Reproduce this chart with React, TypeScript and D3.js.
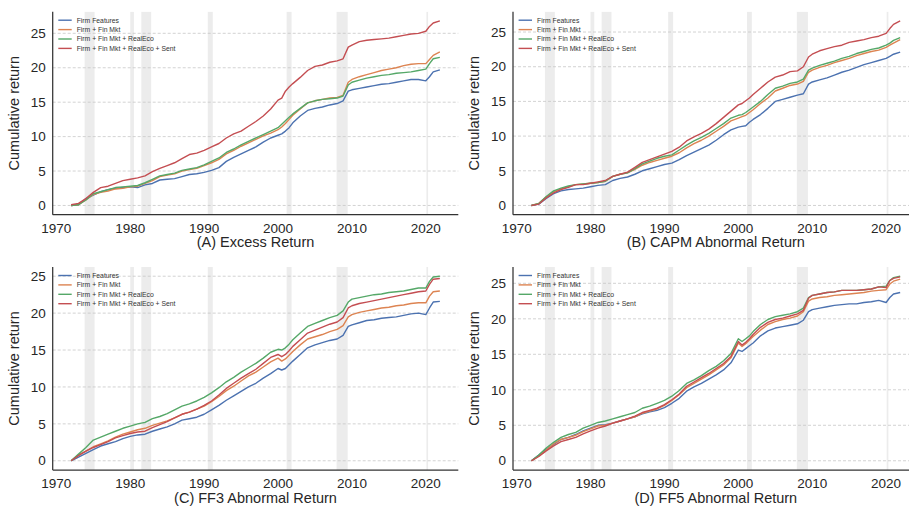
import React from "react";
import * as d3 from "d3";

// Time grid (years, fractional where jumps occur)
const years: number[] = [
  1972, 1973, 1974, 1975, 1976, 1977, 1978, 1979, 1980, 1981, 1982, 1983, 1984, 1985,
  1986, 1987, 1988, 1989, 1990, 1991, 1992, 1993, 1994, 1995, 1996, 1997, 1998, 1999,
  2000, 2000.5, 2001, 2001.5,
  2002, 2003, 2004, 2005, 2006, 2007, 2008,
  2008.8, 2009.5,
  2010, 2011, 2012, 2013, 2014, 2015, 2016, 2017, 2018, 2019, 2020,
  2020.5, 2021, 2021.9,
];

const seriesNames = [
  "Firm Features",
  "Firm + Fin Mkt",
  "Firm + Fin Mkt + RealEco",
  "Firm + Fin Mkt + RealEco + Sent",
];
const seriesColors = ["#4C72B0", "#DD8452", "#55A868", "#C44E52"];

const recessions: [number, number][] = [
  [1973.83, 1975.17],
  [1980.0, 1980.5],
  [1981.5, 1982.83],
  [1990.5, 1991.17],
  [2001.17, 2001.83],
  [2007.92, 2009.42],
  [2020.08, 2020.3],
];

const yTicks = [0, 5, 10, 15, 20, 25];
const xTicks = [1970, 1980, 1990, 2000, 2010, 2020];

// Panel A: Excess Return
const aFirm = [
  0, 0.1, 1.0, 1.5, 2.0, 2.3, 2.5, 2.6, 2.7, 2.6, 3.0, 3.2, 3.7, 3.8, 3.9, 4.2, 4.5, 4.6, 4.8, 5.1, 5.5, 6.4, 7.0, 7.5, 8.0, 8.5, 9.2, 9.8,
  10.2, 10.4, 10.8, 11.3,
  12.0, 13.0, 13.8, 14.1, 14.3, 14.6, 14.8,
  15.2, 16.6,
  16.8, 17.0, 17.2, 17.4, 17.6, 17.7, 17.9, 18.1, 18.3, 18.3, 18.1,
  18.7, 19.4, 19.7,
];
const aFin = [
  0, 0.1, 0.8, 1.6, 1.9, 2.1, 2.4, 2.5, 2.7, 2.8, 3.2, 3.6, 4.2, 4.4, 4.6, 5.0, 5.2, 5.4, 5.8, 6.2, 6.7, 7.5, 8.0, 8.6, 9.1, 9.6, 10.1, 10.5,
  11.0, 11.4, 11.9, 12.5,
  13.1, 14.0, 14.9, 15.2, 15.4, 15.6, 15.7,
  16.0, 17.9,
  18.3, 18.7, 19.0, 19.3, 19.6, 19.8, 20.0, 20.3, 20.5, 20.6, 20.6,
  21.2, 21.8, 22.3,
];
const aEco = [
  0, 0.1, 0.8, 1.7, 2.0, 2.3, 2.6, 2.7, 2.8, 2.9, 3.3, 3.8, 4.3, 4.5, 4.7, 5.1, 5.3, 5.5, 5.9, 6.4, 6.9, 7.7, 8.2, 8.8, 9.3, 9.8, 10.3, 10.8,
  11.3, 11.8, 12.3, 12.8,
  13.3, 14.1, 14.9, 15.2, 15.4, 15.5, 15.6,
  15.9, 17.5,
  17.9, 18.2, 18.5, 18.7, 18.9, 19.0, 19.2, 19.3, 19.4, 19.6, 19.8,
  20.6, 21.3, 21.5,
];
const aSent = [
  0.1, 0.3, 1.0, 1.9, 2.6, 2.8, 3.2, 3.6, 3.8, 4.0, 4.3, 4.9, 5.4, 5.8, 6.2, 6.8, 7.4, 7.6, 8.0, 8.5, 9.0, 9.8, 10.4, 10.8, 11.5, 12.2, 13.0, 14.0,
  15.3, 15.6, 16.6, 17.2,
  17.7, 18.6, 19.6, 20.2, 20.4, 20.8, 21.0,
  21.3, 23.0,
  23.3, 23.8, 24.0, 24.1, 24.2, 24.3, 24.5, 24.7, 24.9, 25.0, 25.3,
  26.0, 26.5, 26.8,
];

// Panel B: CAPM Abnormal Return
const bFirm = [
  0, 0.2, 1.0, 1.7, 2.1, 2.3, 2.4, 2.5, 2.7, 2.9, 3.0, 3.6, 3.9, 4.1, 4.5, 5.0, 5.3, 5.6, 5.9, 6.1, 6.6, 7.2, 7.7, 8.2, 8.7, 9.4, 10.2, 10.9,
  11.3, 11.4, 11.5, 12.0,
  12.4, 13.1, 14.0, 15.0, 15.3, 15.6, 15.9,
  16.1, 17.5,
  17.8, 18.1, 18.4, 18.8, 19.2, 19.5, 19.9, 20.3, 20.6, 20.9, 21.2,
  21.5, 21.8, 22.1,
];
const bFin = [
  0, 0.3, 1.2, 2.0, 2.4, 2.7, 3.0, 3.1, 3.2, 3.3, 3.5, 4.2, 4.5, 4.7, 5.2, 5.8, 6.2, 6.5, 6.8, 7.1, 7.6, 8.3, 8.9, 9.4, 10.0, 10.7, 11.4, 12.2,
  12.6, 12.8, 13.0, 13.4,
  13.8, 14.7, 15.5, 16.5, 16.9, 17.3, 17.5,
  17.9, 19.2,
  19.5, 19.9, 20.2, 20.6, 20.9, 21.2, 21.6, 21.9, 22.2, 22.4, 22.8,
  23.1, 23.4, 23.9,
];
const bEco = [
  0, 0.3, 1.3, 2.1, 2.5, 2.8, 3.0, 3.1, 3.2, 3.3, 3.5, 4.2, 4.5, 4.7, 5.3, 6.0, 6.4, 6.8, 7.1, 7.3, 8.0, 8.7, 9.3, 9.8, 10.4, 11.1, 11.8, 12.6,
  13.0, 13.1, 13.4, 13.8,
  14.2, 15.0, 16.0, 16.9, 17.2, 17.6, 17.8,
  18.2, 19.5,
  19.8, 20.2, 20.5, 20.8, 21.2, 21.5, 21.9, 22.2, 22.5, 22.7, 23.1,
  23.4, 23.8, 24.2,
];
const bSent = [
  0, 0.2, 1.1, 1.8, 2.3, 2.6, 3.0, 3.0, 3.2, 3.4, 3.6, 4.2, 4.5, 4.8, 5.5, 6.2, 6.6, 7.0, 7.4, 7.8, 8.4, 9.3, 9.9, 10.4, 11.0, 11.8, 12.7, 13.6,
  14.5, 14.7, 15.1, 15.5,
  16.0, 16.9, 17.8, 18.5, 18.8, 19.3, 19.4,
  20.0, 21.4,
  21.8, 22.3, 22.6, 22.9, 23.1, 23.5, 23.7, 23.9, 24.2, 24.4, 24.8,
  25.5, 26.1, 26.6,
];

// Panel C: FF3 Abnormal Return
const cFirm = [
  0, 0.5, 1.0, 1.5, 2.0, 2.3, 2.6, 3.0, 3.3, 3.5, 3.6, 4.0, 4.3, 4.6, 5.0, 5.5, 5.7, 5.9, 6.3, 6.9, 7.5, 8.2, 8.8, 9.4, 10.0, 10.5, 11.2, 11.8,
  12.5, 12.3, 12.5, 13.0,
  13.5, 14.4, 15.3, 15.7, 16.0, 16.3, 16.5,
  17.0, 18.2,
  18.4, 18.7, 19.0, 19.1, 19.3, 19.4, 19.5, 19.7, 19.9, 20.0, 19.8,
  20.7, 21.5, 21.6,
];
const cFin = [
  0, 0.8, 1.3, 1.9, 2.3, 2.7, 3.2, 3.6, 3.9, 4.2, 4.4, 4.8, 5.1, 5.4, 5.8, 6.3, 6.6, 7.0, 7.4, 8.0, 8.7, 9.5, 10.1, 10.8, 11.5, 12.0, 12.7, 13.4,
  13.9, 13.5, 13.8, 14.3,
  14.8, 15.7, 16.5, 16.8, 17.1, 17.5, 17.8,
  18.3, 19.5,
  19.8, 20.1, 20.3, 20.5, 20.7, 20.8, 21.0, 21.1, 21.3, 21.4, 21.4,
  22.3, 22.9, 23.0,
];
const cEco = [
  0, 0.9, 1.8, 2.8, 3.2, 3.6, 4.0, 4.4, 4.7, 5.0, 5.2, 5.7, 6.0, 6.4, 6.9, 7.4, 7.7, 8.1, 8.6, 9.2, 9.9, 10.7, 11.3, 12.0, 12.6, 13.2, 13.9, 14.7,
  15.1, 15.0, 15.3, 15.8,
  16.4, 17.3, 18.2, 18.6, 19.0, 19.4, 19.7,
  20.3, 21.5,
  21.9, 22.1, 22.3, 22.5, 22.6, 22.8, 22.9, 23.0, 23.2, 23.4, 23.4,
  24.3, 24.9, 25.0,
];
const cSent = [
  0, 0.7, 1.3, 1.8, 2.2, 2.6, 3.1, 3.4, 3.7, 3.9, 4.0, 4.5, 4.9, 5.3, 5.8, 6.3, 6.6, 7.0, 7.5, 8.1, 8.9, 9.8, 10.5, 11.2, 11.8, 12.4, 13.2, 14.0,
  14.4, 14.1, 14.4, 14.9,
  15.5, 16.4, 17.3, 17.7, 18.1, 18.5, 18.8,
  19.4, 20.7,
  21.0, 21.3, 21.5, 21.7, 21.9, 22.1, 22.3, 22.5, 22.7, 22.9, 23.0,
  23.9, 24.6, 24.7,
];

// Panel D: FF5 Abnormal Return
const dFirm = [
  0, 0.8, 1.6, 2.3, 3.0, 3.3, 3.7, 4.2, 4.6, 5.0, 5.1, 5.3, 5.6, 5.9, 6.2, 6.6, 6.9, 7.1, 7.5, 8.1, 8.8, 9.8, 10.4, 10.9, 11.5, 12.1, 12.8, 13.8,
  15.6, 15.4, 15.8, 16.2,
  16.6, 17.6, 18.3, 18.7, 18.9, 19.1, 19.3,
  19.8, 21.0,
  21.3, 21.5, 21.7, 21.9, 22.0, 22.1, 22.1, 22.3, 22.4, 22.6, 22.3,
  23.0, 23.5, 23.7,
];
const dFin = [
  0, 0.7, 1.5, 2.4, 3.0, 3.3, 3.6, 4.1, 4.5, 4.9, 5.0, 5.3, 5.6, 5.9, 6.2, 6.7, 7.0, 7.3, 7.8, 8.5, 9.3, 10.3, 10.9, 11.5, 12.1, 12.8, 13.5, 14.5,
  16.6, 16.1, 16.5, 17.0,
  17.5, 18.4, 19.2, 19.6, 19.9, 20.1, 20.4,
  21.0, 22.5,
  22.8, 23.0, 23.1, 23.3, 23.4, 23.5, 23.6, 23.7, 23.9, 24.0, 24.1,
  24.9, 25.3, 25.6,
];
const dEco = [
  0, 0.8, 1.8, 2.6, 3.3, 3.7, 4.0, 4.6, 5.0, 5.4, 5.6, 5.9, 6.2, 6.5, 6.8, 7.4, 7.7, 8.1, 8.5, 9.1, 9.9, 10.9, 11.4, 12.0, 12.7, 13.3, 14.1, 15.1,
  17.2, 16.8, 17.2, 17.6,
  18.2, 19.2, 19.9, 20.3, 20.5, 20.7, 21.0,
  21.5, 23.0,
  23.3, 23.5, 23.7, 23.8, 24.0, 24.0, 24.0, 24.1, 24.2, 24.5, 24.6,
  25.4, 25.8, 26.0,
];
const dSent = [
  0, 0.6, 1.4, 2.1, 2.7, 3.0, 3.3, 3.8, 4.2, 4.6, 4.9, 5.3, 5.6, 5.9, 6.3, 6.8, 7.1, 7.4, 7.9, 8.6, 9.4, 10.5, 11.1, 11.7, 12.3, 13.0, 13.7, 14.7,
  16.8, 16.3, 16.7, 17.2,
  17.8, 18.8, 19.5, 19.9, 20.1, 20.4, 20.7,
  21.2, 22.9,
  23.3, 23.5, 23.7, 23.8, 24.0, 24.0, 24.0, 24.1, 24.2, 24.5, 24.4,
  25.4, 25.7, 25.9,
];

const panelTitles = [
  "(A) Excess Return",
  "(B) CAPM Abnormal Return",
  "(C) FF3 Abnormal Return",
  "(D) FF5 Abnormal Return",
];
const panelSeries = [
  [aFirm, aFin, aEco, aSent],
  [bFirm, bFin, bEco, bSent],
  [cFirm, cFin, cEco, cSent],
  [dFirm, dFin, dEco, dSent],
];

const W = 909;
const H = 510;
const AX_W = 405.6;
const AX_H = 203;
const panelPos = [
  { left: 52.7, top: 11.7 },
  { left: 513, top: 11.7 },
  { left: 52.7, top: 267 },
  { left: 513, top: 267 },
];

const FONT = "'Liberation Sans', Arial, Helvetica, sans-serif";
const TEXT = "#262626";

function Panel({ idx }: { idx: number }) {
  const { left, top } = panelPos[idx];
  const series = panelSeries[idx];
  const xMin = d3.min(years)!;
  const xMax = d3.max(years)!;
  const xPad = (xMax - xMin) * 0.05;
  const x = d3.scaleLinear().domain([xMin - xPad, xMax + xPad]).range([left, left + AX_W]);
  const all = series.flat();
  const yMin = Math.min(0, d3.min(all)!);
  const yMax = d3.max(all)!;
  const yPad = (yMax - yMin) * 0.05;
  const y = d3.scaleLinear().domain([yMin - yPad, yMax + yPad]).range([top + AX_H, top]);
  const line = d3
    .line<number>()
    .x((_, i) => x(years[i]))
    .y((v) => y(v));
  const bottom = top + AX_H;
  const clipId = `clip-${idx}`;
  return (
    <g>
      <defs>
        <clipPath id={clipId}>
          <rect x={left} y={top} width={AX_W} height={AX_H} />
        </clipPath>
      </defs>
      {/* recession shading */}
      <g clipPath={`url(#${clipId})`}>
        {recessions.map(([a, b], i) => (
          <rect
            key={i}
            x={x(a)}
            y={top}
            width={Math.max(x(b) - x(a), 1.5)}
            height={AX_H}
            fill="#d9d9d9"
            fillOpacity={0.5}
          />
        ))}
      </g>
      {/* gridlines */}
      {yTicks.map((t) => (
        <line
          key={t}
          x1={left}
          x2={left + AX_W}
          y1={y(t)}
          y2={y(t)}
          stroke="#c8c8c8"
          strokeWidth={0.8}
          strokeDasharray="3,2"
        />
      ))}
      {/* series */}
      <g clipPath={`url(#${clipId})`}>
        {series.map((s, i) => (
          <path
            key={i}
            d={line(s) || ""}
            fill="none"
            stroke={seriesColors[i]}
            strokeWidth={1.4}
            strokeLinejoin="round"
          />
        ))}
      </g>
      {/* spines */}
      <line x1={left} x2={left} y1={top} y2={bottom} stroke="#333" strokeWidth={1.25} />
      <line x1={left} x2={left + AX_W} y1={bottom} y2={bottom} stroke="#333" strokeWidth={1.25} />
      {/* y tick labels */}
      {yTicks.map((t) => (
        <text
          key={t}
          x={left - 7}
          y={y(t)}
          dy="0.35em"
          textAnchor="end"
          fontFamily={FONT}
          fontSize={13.5}
          fill={TEXT}
        >
          {t}
        </text>
      ))}
      {/* x tick labels */}
      {xTicks.map((t) => (
        <text
          key={t}
          x={x(t)}
          y={bottom + 18}
          textAnchor="middle"
          fontFamily={FONT}
          fontSize={13.5}
          fill={TEXT}
        >
          {t}
        </text>
      ))}
      {/* axis labels */}
      <text
        x={left + AX_W / 2}
        y={bottom + 32.5}
        textAnchor="middle"
        fontFamily={FONT}
        fontSize={14.5}
        fill={TEXT}
      >
        {panelTitles[idx]}
      </text>
      <text
        transform={`translate(${left - 34},${top + AX_H / 2}) rotate(-90)`}
        textAnchor="middle"
        fontFamily={FONT}
        fontSize={14.5}
        fill={TEXT}
      >
        Cumulative return
      </text>
      {/* legend */}
      {seriesNames.map((n, i) => (
        <g key={n}>
          <line
            x1={left + 5.6}
            x2={left + 19}
            y1={top + 8.5 + i * 9.4}
            y2={top + 8.5 + i * 9.4}
            stroke={seriesColors[i]}
            strokeWidth={1.4}
          />
          <text
            x={left + 24}
            y={top + 8.5 + i * 9.4}
            dy="0.35em"
            fontFamily={FONT}
            fontSize={6.8}
            fill="#333"
          >
            {n}
          </text>
        </g>
      ))}
    </g>
  );
}

export default function App() {
  return (
    <svg
      width={W}
      height={H}
      style={{ position: "absolute", left: 0, top: 0, background: "#fff" }}
    >
      <rect x={0} y={0} width={W} height={H} fill="#fff" />
      {[0, 1, 2, 3].map((i) => (
        <Panel key={i} idx={i} />
      ))}
    </svg>
  );
}
